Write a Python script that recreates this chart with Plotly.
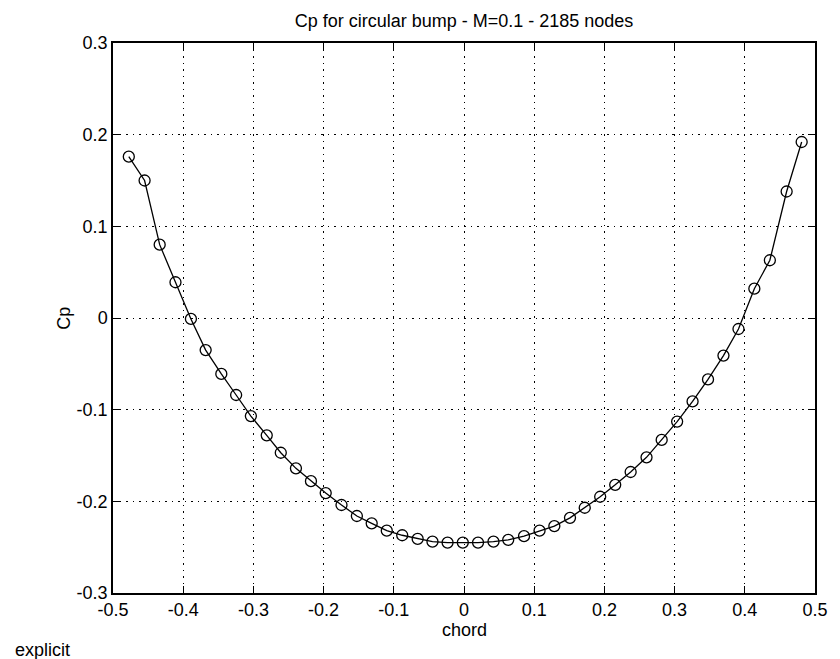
import plotly.graph_objects as go

chord = [-0.4775, -0.455, -0.4335, -0.411, -0.389, -0.368, -0.3457, -0.3246, -0.3036,
         -0.281, -0.261, -0.2394, -0.218, -0.197, -0.1745, -0.1526, -0.1315, -0.110,
         -0.088, -0.066, -0.0449, -0.0234, -0.0017, 0.020, 0.042, 0.063, 0.0855, 0.1076,
         0.1287, 0.151, 0.172, 0.194, 0.2154, 0.2374, 0.260, 0.2816, 0.3036, 0.3256,
         0.3476, 0.3696, 0.391, 0.4136, 0.4357, 0.4596, 0.481]
cp = [0.176, 0.150, 0.080, 0.039, -0.001, -0.035, -0.061, -0.084, -0.107,
      -0.128, -0.147, -0.164, -0.178, -0.191, -0.204, -0.216, -0.224, -0.232,
      -0.237, -0.241, -0.244, -0.245, -0.245, -0.245, -0.244, -0.242, -0.238, -0.232,
      -0.227, -0.218, -0.207, -0.195, -0.182, -0.168, -0.152, -0.133, -0.113, -0.091,
      -0.067, -0.041, -0.012, 0.032, 0.063, 0.138, 0.192]

x_ticks = [-0.5, -0.4, -0.3, -0.2, -0.1, 0, 0.1, 0.2, 0.3, 0.4, 0.5]
x_tick_labels = ["-0.5", "-0.4", "-0.3", "-0.2", "-0.1", "0", "0.1", "0.2", "0.3", "0.4", "0.5"]
y_ticks = [-0.3, -0.2, -0.1, 0, 0.1, 0.2, 0.3]
y_tick_labels = ["-0.3", "-0.2", "-0.1", "0", "0.1", "0.2", "0.3"]

FONT = "Liberation Sans, Arial, Helvetica, sans-serif"

fig = go.Figure()
fig.add_trace(go.Scatter(
    x=chord, y=cp, mode="lines+markers",
    line=dict(color="black", width=1.3),
    marker=dict(symbol="circle-open", size=11, color="black", line=dict(width=1.3)),
    showlegend=False, hoverinfo="x+y",
))

axis_common = dict(
    showline=True, linecolor="black", linewidth=1.5, mirror="allticks",
    ticks="inside", ticklen=7, tickwidth=1.2, tickcolor="black",
    showgrid=True, gridcolor="black", gridwidth=1, griddash="1.5px,5px",
    zeroline=False, tickfont=dict(family=FONT, size=18, color="black"),
)

fig.update_xaxes(range=[-0.5, 0.5], tickvals=x_ticks, ticktext=x_tick_labels, **axis_common)
fig.update_yaxes(range=[-0.3, 0.3], tickvals=y_ticks, ticktext=y_tick_labels, **axis_common)

fig.update_layout(
    width=840, height=659, autosize=False,
    margin=dict(l=113, r=16, t=43, b=66, pad=0),
    paper_bgcolor="white", plot_bgcolor="white",
    font=dict(family=FONT, size=18, color="black"),
    title=dict(text="Cp for circular bump - M=0.1 - 2185 nodes",
               x=0.5, xref="paper", y=1 - 21 / 659, yref="container",
               xanchor="center", yanchor="middle",
               font=dict(family=FONT, size=18, color="black")),
    annotations=[
        dict(text="chord", xref="paper", yref="paper", x=0.5, y=-37 / 550,
             xanchor="center", yanchor="middle", showarrow=False,
             font=dict(family=FONT, size=18, color="black")),
        dict(text="Cp", xref="paper", yref="paper", x=-50 / 711, y=0.5,
             xanchor="center", yanchor="middle", showarrow=False, textangle=-90,
             font=dict(family=FONT, size=18, color="black")),
        dict(text="explicit", xref="paper", yref="paper", x=-101 / 711, y=-57 / 550,
             xanchor="left", yanchor="middle", showarrow=False,
             font=dict(family=FONT, size=18, color="black")),
    ],
)

fig.write_html("out.html")
